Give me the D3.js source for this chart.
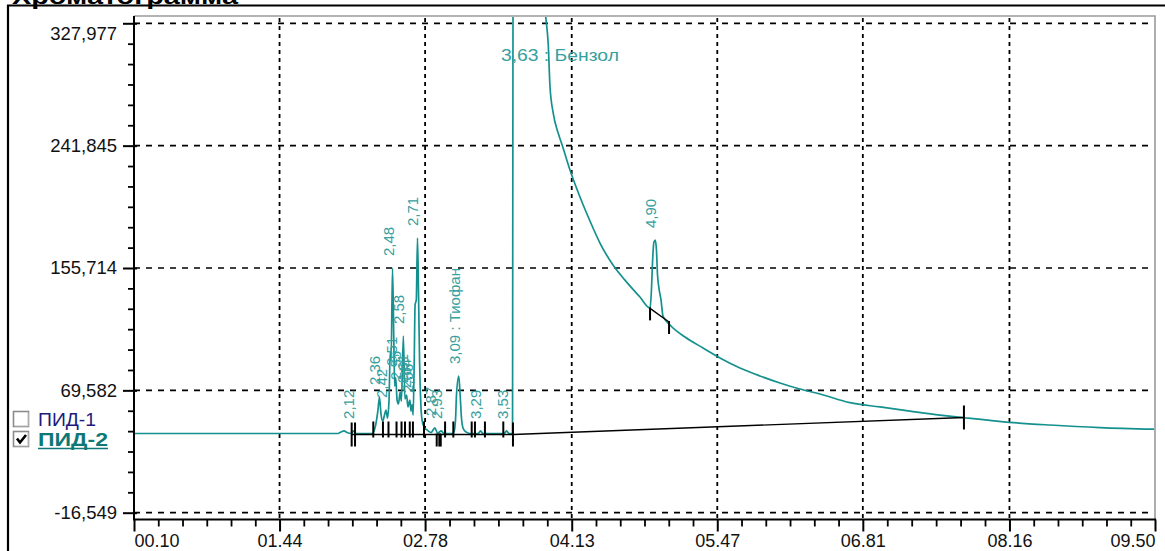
<!DOCTYPE html>
<html lang="ru">
<head>
<meta charset="utf-8">
<title>Хроматограмма</title>
<script src="https://cdn.jsdelivr.net/npm/d3@7/dist/d3.min.js"></script>
<style>
  html, body { margin: 0; padding: 0; background: #fff; }
  svg { display: block; font-family: "Liberation Sans", Arial, sans-serif; }
</style>
</head>
<body>
<svg id="chart" width="1165" height="551"></svg>
<script>
// Axis ticks: retention time (min) and detector signal
const timeTicks = [0.10, 1.44, 2.78, 4.13, 5.47, 6.81, 8.16, 9.50];
const timeTickLabels = ["00.10", "01.44", "02.78", "04.13", "05.47", "06.81", "08.16", "09.50"];
const signalTicks = [-16.549, 69.582, 155.714, 241.845, 327.977];
const signalTickLabels = ["-16,549", "69,582", "155,714", "241,845", "327,977"];

// ПИД-2 trace: time (min) and signal
const traceTime = [
  0.10, 1.978, 2.006, 2.034, 2.061, 2.098, 2.12, 2.144, 2.291, 2.323,
  2.346, 2.36, 2.374, 2.390, 2.406, 2.42, 2.434, 2.448, 2.459, 2.467,
  2.48, 2.492, 2.500, 2.51, 2.522, 2.535, 2.55, 2.562, 2.58, 2.594,
  2.61, 2.622, 2.64, 2.650, 2.66, 2.670, 2.680, 2.688, 2.699, 2.71,
  2.719, 2.729, 2.741, 2.752, 2.770, 2.798, 2.834, 2.87, 2.895, 2.93,
  2.954, 3.028, 3.046, 3.060, 3.069, 3.09, 3.101, 3.115, 3.129, 3.156,
  3.193, 3.27, 3.29, 3.313, 3.507, 3.53, 3.553, 3.585, 3.591, 3.63,
  3.838, 3.890, 3.914, 3.930, 3.960, 4.006, 4.047, 4.114, 4.206, 4.298,
  4.390, 4.510, 4.620, 4.758, 4.851, 4.864, 4.874, 4.887, 4.90, 4.910,
  4.920, 4.933, 4.952, 4.970, 5.035, 5.173, 5.339, 5.495, 5.679, 5.863,
  6.047, 6.231, 6.416, 6.692, 6.968, 7.244, 7.520, 7.741, 8.156, 8.533,
  8.994, 9.500
];
const traceSignal = [
  39.2, 39.2, 40.3, 41.0, 39.9, 39.2, 41.0, 39.2, 39.2, 44.5,
  55.7, 64.9, 52.9, 48.0, 52.2, 55.7, 50.1, 62.8, 96.6, 90.9,
  155.7, 105.0, 72.6, 78.3, 62.8, 60.0, 68.4, 62.0, 107.8, 63.5,
  66.3, 57.9, 62.8, 55.0, 59.3, 52.2, 90.9, 129.7, 133.2, 176.8,
  140.2, 90.9, 59.3, 48.7, 43.8, 41.7, 39.9, 43.1, 39.5, 41.0,
  39.2, 39.2, 40.3, 48.7, 66.3, 79.7, 68.4, 50.1, 43.1, 40.3,
  39.2, 39.2, 41.0, 39.2, 39.2, 41.0, 39.2, 39.2, 450, 520,
  380, 333.1, 312.7, 283.3, 264.6, 250.5, 241.1, 224.7, 205.7, 188.8,
  173.3, 157.8, 147.2, 135.3, 127.5, 140.2, 159.9, 174.0, 175.4, 168.4,
  150.8, 141.6, 133.2, 121.9, 115.6, 107.1, 99.4, 92.4, 85.3, 79.7,
  74.8, 70.5, 67.0, 60.9, 57.9, 55.0, 52.2, 50.3, 47.1, 45.2,
  43.4, 42.2
];

// Identified peaks: retention time and component name
const peakTimes = [2.12, 2.36, 2.42, 2.48, 2.51, 2.55, 2.58, 2.61, 2.64, 2.66, 2.71, 2.87, 2.93, 3.09, 3.29, 3.53, 3.63, 4.90];
const peakNames = ["", "", "", "", "", "", "", "", "", "", "", "", "", "Тиофан", "", "", "Бензол", ""];

// Integration baselines: start and end (time, signal)
const baseStartTime = [2.10, 3.59, 4.851];
const baseStartSignal = [38.5, 38.5, 127.3];
const baseEndTime = [3.59, 7.745, 5.026];
const baseEndSignal = [38.5, 50.5, 117.7];

// Peak boundary markers
const markerUp = [2.303, 2.392, 2.443, 2.517, 2.563, 2.595, 2.639, 2.668, 2.770, 2.964, 3.040, 3.209, 3.239, 3.331, 3.500];
const markerDown = [2.887, 2.911, 2.924, 4.851, 5.026];
const markerBoth = [2.104, 2.135, 3.589, 7.741];

// Detector channels
const detectors = ["ПИД-1", "ПИД-2"];
const detectorShown = [false, true];

const svg = d3.select("#chart");
const plot = { left: 134, right: 1155, top: 16, bottom: 519.5 };
const TEAL = "#14918f";
const LABEL_TEAL = "#35a09e";

const x = d3.scaleLinear().domain([0.10, 9.50]).range([plot.left, plot.right]);
const y = d3.scaleLinear().domain([-16.549, 327.977]).range([512.7, 23.3]);

// Outer window frame and title
svg.append("line").attr("x1", 7).attr("x2", 1165).attr("y1", 5.5).attr("y2", 5.5)
  .attr("stroke", "#000").attr("stroke-width", 2);
svg.append("line").attr("x1", 8).attr("x2", 8).attr("y1", 5).attr("y2", 551)
  .attr("stroke", "#000").attr("stroke-width", 2.2);
svg.append("text").attr("x", 12).attr("y", 4)
  .attr("font-size", 22).attr("font-weight", "bold").attr("fill", "#000")
  .attr("textLength", 226).attr("lengthAdjust", "spacingAndGlyphs")
  .text("Хроматограмма");

// Plot frame (top and right edges)
svg.append("path")
  .attr("d", `M${plot.left},${plot.top}H${plot.right}V${plot.bottom}`)
  .attr("fill", "none").attr("stroke", "#9a9a9a").attr("stroke-width", 1.6);

// Grid
const grid = svg.append("g");
grid.selectAll("line.h").data(signalTicks).join("line").attr("class", "h")
  .attr("x1", plot.left).attr("x2", plot.right - 4)
  .attr("y1", d => y(d)).attr("y2", d => y(d))
  .attr("stroke", "#000").attr("stroke-width", 1.7).attr("stroke-dasharray", "6,6");
grid.selectAll("line.v").data(timeTicks.slice(1, -1)).join("line").attr("class", "v")
  .attr("x1", d => x(d)).attr("x2", d => x(d))
  .attr("y1", plot.top + 2).attr("y2", plot.bottom)
  .attr("stroke", "#000").attr("stroke-width", 1.8).attr("stroke-dasharray", "4,4");

// Minor tick values
const minorSignal = [];
for (let i = 0; i < signalTicks.length - 1; i++) {
  const step = (signalTicks[i + 1] - signalTicks[i]) / 6;
  for (let k = 1; k < 6; k++) minorSignal.push(signalTicks[i] + k * step);
}
const minorTime = [];
for (let i = 0; i < timeTicks.length - 1; i++) {
  const step = (timeTicks[i + 1] - timeTicks[i]) / 6;
  for (let k = 1; k < 6; k++) minorTime.push(timeTicks[i] + k * step);
}

// Y axis
const yAxisG = svg.append("g").attr("transform", `translate(${plot.left},0)`);
yAxisG.call(d3.axisLeft(y).tickValues(signalTicks).tickSize(11).tickPadding(6)
  .tickSizeOuter(0).tickFormat((d, i) => signalTickLabels[i]));
yAxisG.select(".domain").remove();
yAxisG.selectAll(".tick line").attr("x1", 3).attr("stroke", "#000").attr("stroke-width", 2);
yAxisG.selectAll(".tick text").attr("font-size", 18.5).attr("fill", "#111")
  .style("font-family", "'Liberation Sans', Arial, sans-serif");
yAxisG.selectAll(".tick text").filter((d, i) => i === signalTicks.length - 1).attr("dy", "0.85em");
const yMinorG = svg.append("g").attr("transform", `translate(${plot.left},0)`);
yMinorG.call(d3.axisLeft(y).tickValues(minorSignal).tickSize(6).tickSizeOuter(0).tickFormat(""));
yMinorG.select(".domain").remove();
yMinorG.selectAll(".tick line").attr("stroke", "#000").attr("stroke-width", 1.8);

// X axis
const xAxisG = svg.append("g").attr("transform", `translate(0,${plot.bottom})`);
xAxisG.call(d3.axisBottom(x).tickValues(timeTicks).tickSize(12).tickPadding(3)
  .tickSizeOuter(0).tickFormat((d, i) => timeTickLabels[i]));
xAxisG.select(".domain").remove();
xAxisG.selectAll(".tick line").attr("stroke", "#000").attr("stroke-width", 2);
xAxisG.selectAll(".tick text").attr("font-size", 18).attr("fill", "#111")
  .style("font-family", "'Liberation Sans', Arial, sans-serif");
xAxisG.selectAll(".tick text").filter((d, i) => i === 0).attr("text-anchor", "start");
xAxisG.selectAll(".tick text").filter((d, i) => i === timeTicks.length - 1).attr("text-anchor", "end");
const xMinorG = svg.append("g").attr("transform", `translate(0,${plot.bottom})`);
xMinorG.call(d3.axisBottom(x).tickValues(minorTime).tickSize(7).tickSizeOuter(0).tickFormat(""));
xMinorG.select(".domain").remove();
xMinorG.selectAll(".tick line").attr("stroke", "#000").attr("stroke-width", 1.8);

// Axis lines
svg.append("line").attr("x1", plot.left).attr("x2", plot.left)
  .attr("y1", plot.top).attr("y2", plot.bottom + 1)
  .attr("stroke", "#000").attr("stroke-width", 2);
svg.append("line").attr("x1", plot.left).attr("x2", plot.right + 1)
  .attr("y1", plot.bottom).attr("y2", plot.bottom)
  .attr("stroke", "#000").attr("stroke-width", 2);

// Clip region for the data
svg.append("defs").append("clipPath").attr("id", "plotClip")
  .append("rect").attr("x", plot.left + 1).attr("y", plot.top + 1)
  .attr("width", plot.right - plot.left - 2).attr("height", plot.bottom - plot.top - 2);
const dataG = svg.append("g").attr("clip-path", "url(#plotClip)");

// Trace
const trace = traceTime.map((t, i) => [t, traceSignal[i]]);
const line = d3.line().x(d => x(d[0])).y(d => y(d[1])).curve(d3.curveMonotoneX);
dataG.append("path").datum(trace).attr("d", line)
  .attr("fill", "none").attr("stroke", TEAL).attr("stroke-width", 1.7)
  .attr("stroke-linejoin", "round");

// Integration baselines
const baselines = baseStartTime.map((t, i) => ({
  t0: t, v0: baseStartSignal[i], t1: baseEndTime[i], v1: baseEndSignal[i]
}));
dataG.selectAll("line.base").data(baselines).join("line").attr("class", "base")
  .attr("x1", d => x(d.t0)).attr("y1", d => y(d.v0))
  .attr("x2", d => x(d.t1)).attr("y2", d => y(d.v1))
  .attr("stroke", "#000").attr("stroke-width", 1.4);

function baseAt(t) {
  const hits = baselines.filter(b => t >= b.t0 - 0.01 && t <= b.t1 + 0.01)
    .sort((a, b) => (a.t1 - a.t0) - (b.t1 - b.t0));
  const b = hits[0];
  const f = Math.max(0, Math.min(1, (t - b.t0) / (b.t1 - b.t0)));
  return b.v0 + f * (b.v1 - b.v0);
}

// Peak boundary markers
const markerG = dataG.append("g").attr("stroke", "#000").attr("stroke-width", 2);
markerG.selectAll("line.up").data(markerUp).join("line").attr("class", "up")
  .attr("x1", d => x(d)).attr("x2", d => x(d))
  .attr("y1", d => y(baseAt(d)) - 13).attr("y2", d => y(baseAt(d)) + 3);
markerG.selectAll("line.down").data(markerDown).join("line").attr("class", "down")
  .attr("x1", d => x(d)).attr("x2", d => x(d))
  .attr("y1", d => y(baseAt(d)) - 1).attr("y2", d => y(baseAt(d)) + 12);
markerG.selectAll("line.both").data(markerBoth).join("line").attr("class", "both")
  .attr("x1", d => x(d)).attr("x2", d => x(d))
  .attr("y1", d => y(baseAt(d)) - 12).attr("y2", d => y(baseAt(d)) + 12);

// Peak labels
const fmt = t => d3.format(".2f")(t).replace(".", ",");
const peaks = peakTimes.map((t, i) => {
  const j = d3.minIndex(traceTime, tt => Math.abs(tt - t));
  return { t, v: traceSignal[j], name: peakNames[i] };
});
const labelG = svg.append("g").attr("fill", LABEL_TEAL);
peaks.forEach(p => {
  const text = fmt(p.t) + (p.name ? " : " + p.name : "");
  if (y(p.v) < plot.top) {
    labelG.append("text")
      .attr("x", x(p.t) - 16.5).attr("y", 61)
      .attr("font-size", 17)
      .attr("textLength", 118).attr("lengthAdjust", "spacingAndGlyphs")
      .text(text);
  } else {
    labelG.append("text")
      .attr("transform", `translate(${x(p.t) + 1},${y(p.v) - 12}) rotate(-90)`)
      .attr("font-size", 15)
      .text(text);
  }
});

// Detector legend
const legend = svg.append("g");
detectors.forEach((name, i) => {
  const top = 411 + i * 20;
  const g = legend.append("g");
  g.append("rect").attr("x", 13.5).attr("y", top + 0.5).attr("width", 15).attr("height", 15)
    .attr("fill", "#fff").attr("stroke", "#8c8c8c").attr("stroke-width", 1.6);
  g.append("path").attr("d", `M${14.8},${top + 14.6}H${27.8}V${top + 1.6}`)
    .attr("fill", "none").attr("stroke", "#dedede").attr("stroke-width", 1.2);
  if (detectorShown[i]) {
    g.append("path").attr("d", `M${17},${top + 7.5}L${20},${top + 11.5}L${26},${top + 4}`)
      .attr("fill", "none").attr("stroke", "#000").attr("stroke-width", 2.6);
  }
  g.append("text").attr("x", 38).attr("y", top + 14.5)
    .attr("font-size", 18.5)
    .attr("fill", detectorShown[i] ? "#0f7877" : "#1c1c7a")
    .attr("font-weight", detectorShown[i] ? "bold" : "normal")
    .attr("textLength", detectorShown[i] ? 70 : 58).attr("lengthAdjust", "spacingAndGlyphs")
    .text(name);
  if (detectorShown[i]) {
    g.append("line").attr("x1", 38).attr("x2", 108).attr("y1", top + 17.5).attr("y2", top + 17.5)
      .attr("stroke", "#0f7877").attr("stroke-width", 1.6);
  }
});
</script>
</body>
</html>
